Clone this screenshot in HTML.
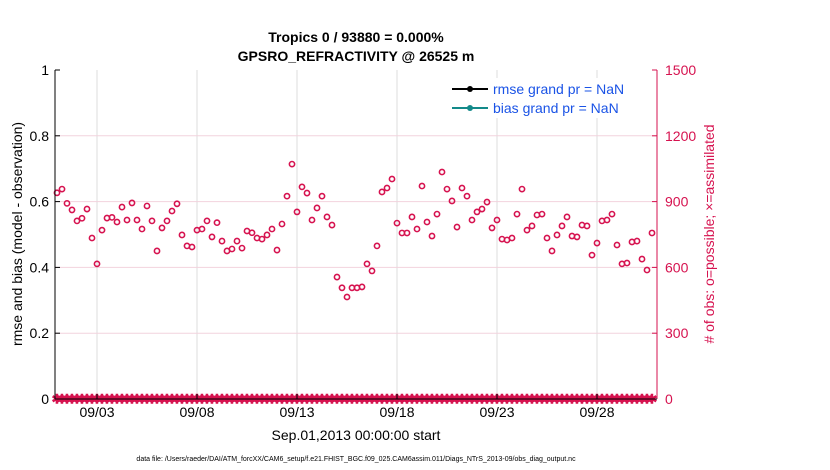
<!DOCTYPE html>
<html><head><meta charset="utf-8"><style>
body{margin:0;background:#fff;}
svg{display:block;font-family:"Liberation Sans",Arial,sans-serif;}
</style></head><body>
<svg width="830" height="470" viewBox="0 0 830 470">
<g id="grid"></g>
<g id="marks"></g>
<g id="axes"></g>
<text x="356" y="42" text-anchor="middle" font-size="14" font-weight="bold">Tropics 0 / 93880 = 0.000%</text>
<text x="356" y="61" text-anchor="middle" font-size="14" font-weight="bold">GPSRO_REFRACTIVITY @ 26525 m</text>
<text transform="translate(22,234) rotate(-90)" text-anchor="middle" font-size="14">rmse and bias (model - observation)</text>
<text transform="translate(714,234) rotate(-90)" text-anchor="middle" font-size="14" fill="#d6124f"># of obs: o=possible; ×=assimilated</text>
<text x="356" y="440" text-anchor="middle" font-size="14">Sep.01,2013 00:00:00 start</text>
<text x="356" y="461" text-anchor="middle" font-size="7">data file: /Users/raeder/DAI/ATM_forcXX/CAM6_setup/f.e21.FHIST_BGC.f09_025.CAM6assim.011/Diags_NTrS_2013-09/obs_diag_output.nc</text>
<g>
<rect x="446" y="78" width="200" height="40" fill="#fff"/>
<line x1="452" y1="89" x2="488" y2="89" stroke="#000" stroke-width="2"/><circle cx="470" cy="89" r="3" fill="#000"/>
<text x="493" y="94" font-size="14" fill="#1a53e6">rmse grand pr = NaN</text>
<line x1="452" y1="108" x2="488" y2="108" stroke="#138a8a" stroke-width="2"/><circle cx="470" cy="108" r="3" fill="#138a8a"/>
<text x="493" y="113" font-size="14" fill="#1a53e6">bias grand pr = NaN</text>
</g>
</svg>
<script>
const possibleCounts=[940,957,892,862,812,824,866,734,616,770,
825,828,807,875,816,894,816,775,880,812,
675,780,812,857,890,748,698,693,770,775,
812,739,804,720,675,684,720,688,766,758,
734,729,748,775,679,798,925,1071,853,967,
939,816,871,925,830,793,556,507,465,507,
507,511,616,584,698,944,962,1003,802,757,
757,830,775,971,807,743,843,1035,957,903,
784,962,925,816,853,866,898,780,816,729,
725,734,843,957,770,789,839,843,734,675,
748,789,830,743,739,793,789,656,711,812,
816,843,702,616,620,716,720,638,588,757];
const assimilatedCounts=possibleCounts.map(()=>0);
const xTickDays=[2,7,12,17,22,27];
const xTickLabels=["09/03","09/08","09/13","09/18","09/23","09/28"];
const leftTicks=[0,0.2,0.4,0.6,0.8,1];
const leftTickLabels=["0","0.2","0.4","0.6","0.8","1"];
const rightTicks=[0,300,600,900,1200,1500];
const stepDays=0.25;
const NS="http://www.w3.org/2000/svg";
const L=55,R=657,T=70,B=399;
const xs=d=>57+d*20;
const yl=v=>B-v*(B-T);
const yr=v=>B-v/1500*(B-T);
const C="#d6124f";
function mk(p,tag,a){const e=document.createElementNS(NS,tag);for(const k in a)e.setAttribute(k,a[k]);p.appendChild(e);return e;}
const grid=document.getElementById('grid'),marks=document.getElementById('marks'),axes=document.getElementById('axes');
xTickDays.forEach((d,i)=>{
 const g=mk(grid,'line',{x1:xs(d),x2:xs(d),y1:T,y2:B,stroke:'#dcdcdc','stroke-width':1});
 
 
 mk(axes,'line',{x1:xs(d),x2:xs(d),y1:B,y2:B-5,stroke:'#000'});
 const t=mk(axes,'text',{x:xs(d),y:417,'text-anchor':'middle','font-size':14});
 t.textContent=xTickLabels[i];
 
 
});
rightTicks.forEach((v,i)=>{
 if(v>0&&v<1500){const g=mk(grid,'line',{x1:L,x2:R,y1:yr(v),y2:yr(v),stroke:'#f2d3dd','stroke-width':1});
 
 }
 mk(axes,'line',{x1:R,x2:R-5,y1:yr(v),y2:yr(v),stroke:C});
 const t=mk(axes,'text',{x:R+8,y:yr(v)+5,'font-size':14,fill:C});
 t.textContent=String(v);
 
 
});
leftTicks.forEach((v,i)=>{
 mk(axes,'line',{x1:L,x2:L+5,y1:yl(v),y2:yl(v),stroke:'#000'});
 const t=mk(axes,'text',{x:L-6,y:yl(v)+5,'text-anchor':'end','font-size':14});
 t.textContent=leftTickLabels[i];
 
 
});
let a=mk(axes,'line',{x1:L,x2:L,y1:T,y2:B,stroke:'#000'});


a=mk(axes,'line',{x1:R,x2:R,y1:T,y2:B,stroke:C});


a=mk(axes,'line',{x1:L,x2:R,y1:B,y2:B,stroke:'#000'});


possibleCounts.forEach((v,i)=>{
 const c=mk(marks,'circle',{cx:xs(i*stepDays),cy:yr(v),r:2.6,fill:'none',stroke:C,'stroke-width':1.6});
 
 
});
assimilatedCounts.forEach((v,i)=>{
 const x=xs(i*stepDays),y=yr(v);
 const s=mk(marks,'text',{x:x,y:y+4.5,'text-anchor':'middle','font-size':13,fill:C,'font-weight':'bold'});
 s.textContent='✱';
 
 
});
</script>
</body></html>
